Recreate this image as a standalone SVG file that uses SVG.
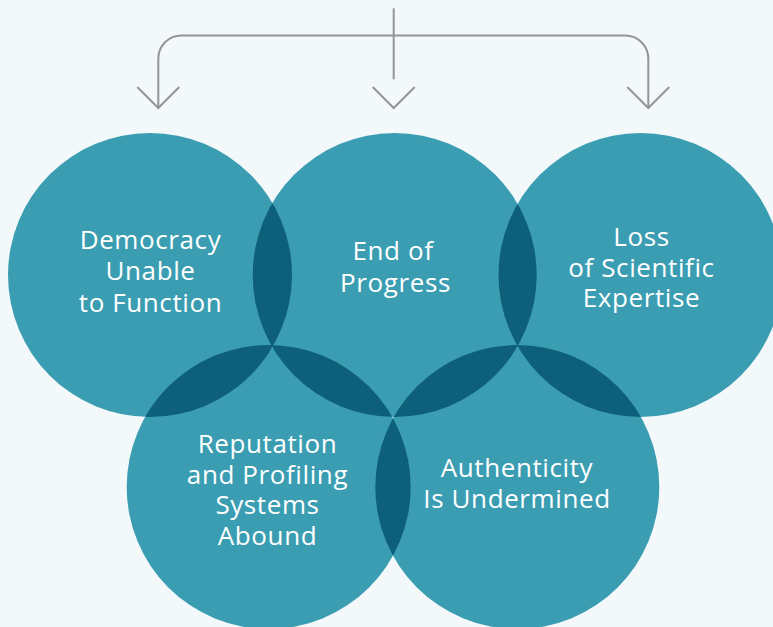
<svg xmlns="http://www.w3.org/2000/svg" width="773" height="627" viewBox="0 0 773 627">
  <defs>
    <style>
      .c { fill: #3a9db2; }
      .o { fill: #0e607a; }
      .t { fill: #ffffff; font-family: "Open Sans", "Noto Sans", "Liberation Sans", sans-serif; font-size: 26px; font-weight: 500; letter-spacing: 0.6px; text-anchor: middle; }
      .ln { fill: none; stroke: #939598; stroke-width: 2; }
    </style>
    <clipPath id="cTL"><circle cx="150" cy="275" r="142"/></clipPath>
    <clipPath id="cTM"><circle cx="394.7" cy="275" r="142"/></clipPath>
    <clipPath id="cTR"><circle cx="640.5" cy="275" r="142"/></clipPath>
    <clipPath id="cBL"><circle cx="268.7" cy="487" r="142"/></clipPath>
    <clipPath id="cBR"><circle cx="517.3" cy="487" r="142"/></clipPath>
  </defs>
  <rect width="773" height="627" fill="#f3f8fb"/>

  <g id="node-democracy">
    <circle class="c" cx="150" cy="275" r="142"/>
    <text class="t" x="150.5" y="249">Democracy</text>
    <text class="t" x="150.5" y="280">Unable</text>
    <text class="t" x="150.5" y="311.5">to Function</text>
  </g>
  <g id="node-progress">
    <circle class="c" cx="394.7" cy="275" r="142"/>
    <text class="t" x="393" y="260">End of</text>
    <text class="t" x="395.5" y="291.5">Progress</text>
  </g>
  <g id="node-expertise">
    <circle class="c" cx="640.5" cy="275" r="142"/>
    <text class="t" x="641.5" y="246">Loss</text>
    <text class="t" x="641.5" y="277">of Scientific</text>
    <text class="t" x="641.5" y="307">Expertise</text>
  </g>
  <g id="node-reputation">
    <circle class="c" cx="268.7" cy="487" r="142"/>
  </g>
  <g id="node-authenticity">
    <circle class="c" cx="517.3" cy="487" r="142"/>
  </g>

  <g id="overlaps">
    <circle class="o" cx="394.7" cy="275" r="142" clip-path="url(#cTL)"/>
    <circle class="o" cx="640.5" cy="275" r="142" clip-path="url(#cTM)"/>
    <circle class="o" cx="268.7" cy="487" r="142" clip-path="url(#cTL)"/>
    <circle class="o" cx="268.7" cy="487" r="142" clip-path="url(#cTM)"/>
    <circle class="o" cx="517.3" cy="487" r="142" clip-path="url(#cTM)"/>
    <circle class="o" cx="517.3" cy="487" r="142" clip-path="url(#cTR)"/>
    <circle class="o" cx="517.3" cy="487" r="142" clip-path="url(#cBL)"/>
  </g>

  <g id="labels-bottom">
    <text class="t" x="267.5" y="452.5">Reputation</text>
    <text class="t" x="267.5" y="483.5">and Profiling</text>
    <text class="t" x="267.5" y="514">Systems</text>
    <text class="t" x="267.5" y="545">Abound</text>
    <text class="t" x="517" y="477">Authenticity</text>
    <text class="t" x="517" y="508">Is Undermined</text>
  </g>

  <g id="connectors">
    <path class="ln" d="M393.7 8.3 V79.3"/>
    <path class="ln" d="M158.3 108 V58.5 A23 23 0 0 1 181.3 35.5 H625.3 A23 23 0 0 1 648.3 58.5 V108"/>
    <path class="ln" d="M137.3 87 L158.3 108 L179.3 87"/>
    <path class="ln" d="M372.7 87 L393.7 108 L414.7 87"/>
    <path class="ln" d="M627.3 87 L648.3 108 L669.3 87"/>
  </g>
</svg>
